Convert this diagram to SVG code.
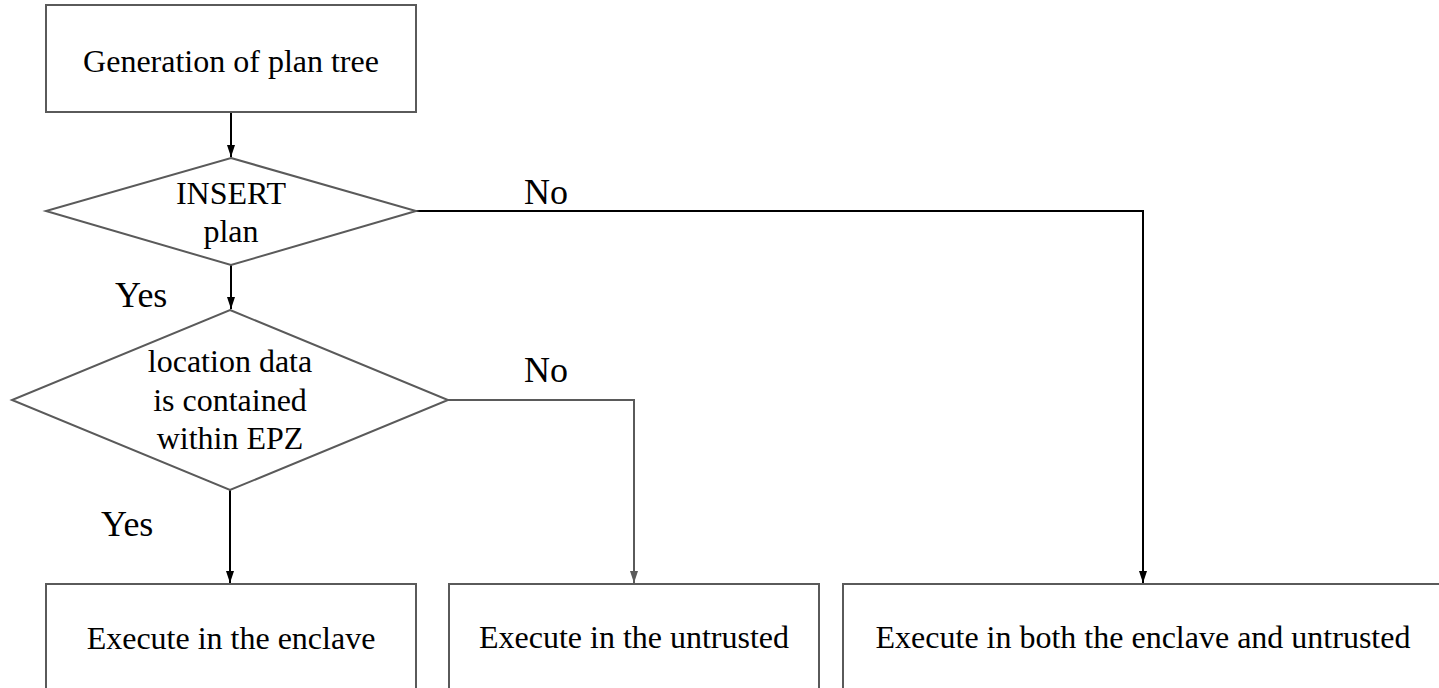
<svg xmlns="http://www.w3.org/2000/svg" width="1439" height="688" viewBox="0 0 1439 688">
  <style>
    .shape { fill: #ffffff; stroke: #5a5a5a; stroke-width: 2; }
    .node-text { font-family: 'Liberation Serif', 'DejaVu Serif', Times, serif; font-size: 32px; fill: #000000; text-anchor: middle; }
    .label { font-family: 'Liberation Serif', 'DejaVu Serif', Times, serif; font-size: 36px; fill: #000000; }
    .link { fill: none; stroke-width: 2; }
    .link.dark { stroke: #000000; }
    .link.grey { stroke: #5a5a5a; }
  </style>
  <defs>
    <marker id="arrow-dark" viewBox="0 0 8 12" markerWidth="8" markerHeight="12" refX="4" refY="12" orient="0" markerUnits="userSpaceOnUse">
      <path d="M0,0 L8,0 L4,12 Z" fill="#000000"/>
    </marker>
    <marker id="arrow-grey" viewBox="0 0 8 12" markerWidth="8" markerHeight="12" refX="4" refY="12" orient="0" markerUnits="userSpaceOnUse">
      <path d="M0,0 L8,0 L4,12 Z" fill="#5a5a5a"/>
    </marker>
  </defs>

  <rect width="1439" height="688" fill="#ffffff"/>

  <!-- connectors -->
  <g id="connectors">
    <path class="link dark" d="M231,112 V157" marker-end="url(#arrow-dark)"/>
    <path class="link dark" d="M231,265 V309" marker-end="url(#arrow-dark)"/>
    <path class="link dark" d="M416,211 H1143 V583" marker-end="url(#arrow-dark)"/>
    <path class="link grey" d="M448,400 H634 V583" marker-end="url(#arrow-grey)"/>
    <path class="link dark" d="M230,490 V583" marker-end="url(#arrow-dark)"/>
    <text class="label" x="524" y="204" font-family="Liberation Serif">No</text>
    <text class="label" x="115" y="307" font-family="Liberation Serif">Yes</text>
    <text class="label" x="524" y="382" font-family="Liberation Serif">No</text>
    <text class="label" x="101" y="536" font-family="Liberation Serif">Yes</text>
  </g>

  <!-- start: build plan tree -->
  <g id="node-generate">
    <rect class="shape" x="46" y="5" width="370" height="107"/>
    <text class="node-text" x="231" y="72">Generation of plan tree</text>
  </g>

  <!-- decision: INSERT plan -->
  <g id="node-insert">
    <polygon class="shape" points="231,158 416,211 231,265 46,211"/>
    <text class="node-text" x="231" y="204">INSERT</text>
    <text class="node-text" x="231" y="242">plan</text>
  </g>

  <!-- decision: location data inside EPZ -->
  <g id="node-location">
    <polygon class="shape" points="230,310 448,400 230,490 12,400"/>
    <text class="node-text" x="230" y="372">location data</text>
    <text class="node-text" x="230" y="411">is contained</text>
    <text class="node-text" x="230" y="449">within EPZ</text>
  </g>

  <!-- outcomes -->
  <g id="node-enclave">
    <rect class="shape" x="46" y="584" width="370" height="120"/>
    <text class="node-text" x="231" y="649">Execute in the enclave</text>
  </g>

  <g id="node-untrusted">
    <rect class="shape" x="449" y="584" width="370" height="120"/>
    <text class="node-text" x="634" y="648">Execute in the untrusted</text>
  </g>

  <g id="node-both">
    <rect class="shape" x="843" y="584" width="600" height="120"/>
    <text class="node-text" x="1143" y="648">Execute in both the enclave and untrusted</text>
  </g>
</svg>
